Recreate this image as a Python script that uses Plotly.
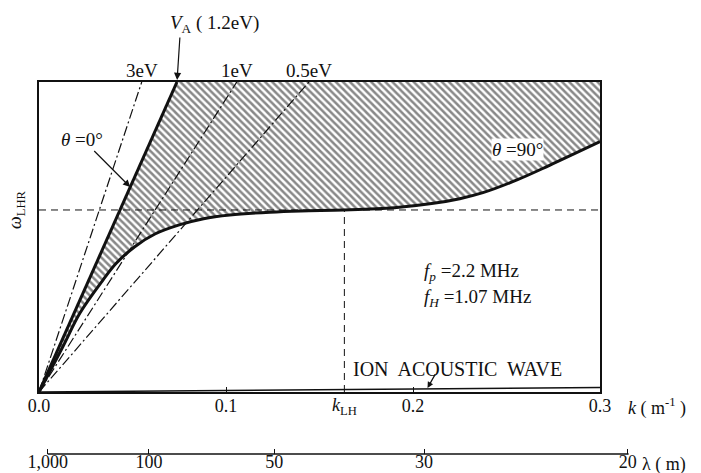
import plotly.graph_objects as go

# ---------------- data ----------------
# k in m^-1, omega normalised to omega_LHR
y_top = 1.703                      # top of the frame (omega / omega_LHR)
omega_LHR = 1.0
k_LH = 0.1633

k_tick_vals = [0.0, 0.1, 0.2, 0.3]
k_tick_text = ["0.0", "0.1", "0.2", "0.3"]

lam_labels = ["1,000", "100", "50", "30", "20"]
lam_tick_k = [0.00465, 0.0588, 0.1258, 0.2059, 0.3148]   # positions of lambda ticks on the k scale

# straight lines omega = slope * k
temp_labels = ["3eV", "1eV", "0.5eV"]
temp_slopes = [31.0, 16.1, 11.8]

alfven_slope = 23.08               # theta = 0 deg, V_A (1.2 eV)

# theta = 90 deg branch (lower hybrid)
theta90_k = [0.0, 0.0128, 0.0219, 0.0342, 0.0413, 0.0512, 0.062, 0.075, 0.088,
             0.102, 0.1235, 0.14, 0.163, 0.19, 0.21, 0.225, 0.2374, 0.2556, 0.273, 0.3]
theta90_w = [0.0, 0.25, 0.434, 0.615, 0.707, 0.798, 0.868, 0.918, 0.952,
             0.972, 0.988, 0.995, 1.0, 1.012, 1.035, 1.062, 1.095, 1.165, 1.245, 1.375]

ion_k = [0.0, 0.3]
ion_w = [0.0, 0.025]

k_max = 0.3

# ---------------- figure ----------------
W, H = 701, 473
ml, mr, mt, mb = 39, 71, 82, 19
plot_w = W - ml - mr
plot_h = H - mt - mb
main_px = 561.0
x_dom_end = main_px / plot_w
y_dom_start = 62.0 / plot_h

FONT = "Liberation Serif, Times New Roman, DejaVu Serif, serif"
BLACK = "#111111"

def f(size):
    return dict(size=size, family=FONT, color=BLACK)

fig = go.Figure()

# hatched region between theta=0 line and theta=90 curve
k_top_alfven = y_top / alfven_slope
poly_k = [0.0, k_top_alfven, k_max] + theta90_k[::-1]
poly_w = [0.0, y_top, y_top] + theta90_w[::-1]
fig.add_trace(go.Scatter(
    x=poly_k, y=poly_w, mode="lines", fill="toself",
    line=dict(width=0, color="rgba(0,0,0,0)"),
    fillcolor="white",
    fillpattern=dict(shape="\\", size=5, solidity=0.5, fgcolor=BLACK, bgcolor="white"),
    hoverinfo="skip", showlegend=False))

# omega_LHR dashed horizontal
fig.add_trace(go.Scatter(x=[0, k_max], y=[omega_LHR, omega_LHR], mode="lines",
                         line=dict(color=BLACK, width=1, dash="7px,5px"),
                         showlegend=False, hoverinfo="skip"))
# k_LH dashed vertical
fig.add_trace(go.Scatter(x=[k_LH, k_LH], y=[0, omega_LHR], mode="lines",
                         line=dict(color=BLACK, width=1, dash="7px,5px"),
                         showlegend=False, hoverinfo="skip"))

# temperature lines (dash-dot)
for lab, s in zip(temp_labels, temp_slopes):
    kt = y_top / s
    fig.add_trace(go.Scatter(x=[0, kt], y=[0, y_top], mode="lines",
                             line=dict(color=BLACK, width=1.2, dash="10px,3px,2px,3px"),
                             showlegend=False, hoverinfo="skip"))

# theta = 0 (Alfven) thick line
fig.add_trace(go.Scatter(x=[0, k_top_alfven], y=[0, y_top], mode="lines",
                         line=dict(color=BLACK, width=3),
                         showlegend=False, hoverinfo="skip"))
# theta = 90 thick curve
fig.add_trace(go.Scatter(x=theta90_k, y=theta90_w, mode="lines",
                         line=dict(color=BLACK, width=3, shape="spline", smoothing=1.0),
                         showlegend=False, hoverinfo="skip"))
# ion acoustic wave
fig.add_trace(go.Scatter(x=ion_k, y=ion_w, mode="lines",
                         line=dict(color=BLACK, width=1.5),
                         showlegend=False, hoverinfo="skip"))

# invisible trace to hold the lambda axis
fig.add_trace(go.Scatter(x=[lam_tick_k[0]], y=[None], xaxis="x2", yaxis="y",
                         mode="markers", marker=dict(opacity=0),
                         showlegend=False, hoverinfo="skip"))

ann = []
# temperature labels at top
for lab, s in zip(temp_labels, temp_slopes):
    ann.append(dict(x=y_top / s, y=y_top, xref="x", yref="y", text=lab, showarrow=False,
                    yanchor="bottom", yshift=-1, font=f(19)))
# V_A label + arrow
ann.append(dict(x=k_top_alfven, y=y_top, xref="x", yref="y", text="", showarrow=True,
                ax=3, ay=-46, arrowhead=2, arrowsize=1.2, arrowwidth=1.2, arrowcolor=BLACK,
                standoff=2))
ann.append(dict(x=k_top_alfven, y=y_top, xref="x", yref="y",
                text="<i>V</i><sub>A</sub> ( 1.2eV)", showarrow=False,
                xshift=38, yshift=58, font=f(19)))
# theta = 0 label with arrow
w_arrow = 1.126
ann.append(dict(x=w_arrow / alfven_slope, y=w_arrow, xref="x", yref="y",
                text="<i>θ</i> =0°", showarrow=True, ax=-48, ay=-48,
                arrowhead=2, arrowsize=1.2, arrowwidth=1.2, arrowcolor=BLACK,
                font=f(19)))
# theta = 90 label
ann.append(dict(x=0.256, y=1.33, xref="x", yref="y", text="<i>θ</i> =90°", showarrow=False,
                bgcolor="white", borderpad=0, font=f(19)))
# plasma parameters
ann.append(dict(x=0.2048, y=0.659, xref="x", yref="y", xanchor="left",
                text="<i>f</i><sub><i>p</i></sub> =2.2 MHz", showarrow=False, font=f(19)))
ann.append(dict(x=0.2048, y=0.516, xref="x", yref="y", xanchor="left",
                text="<i>f</i><sub><i>H</i></sub> =1.07 MHz", showarrow=False, font=f(19)))
# ion acoustic wave label + arrow
ann.append(dict(x=0.1667, y=0.126, xref="x", yref="y", xanchor="left",
                text="ION  ACOUSTIC  WAVE", showarrow=False, font=f(20)))
k_ia = 0.2075
ann.append(dict(x=k_ia, y=ion_w[1] * k_ia / ion_k[1], xref="x", yref="y", text="",
                showarrow=True, ax=9, ay=-16, arrowhead=2, arrowsize=1, arrowwidth=1.2,
                arrowcolor=BLACK, standoff=1))
# k_LH label
ann.append(dict(x=k_LH, y=0, xref="x", yref="y", text="<i>k</i><sub>LH</sub>",
                showarrow=False, yanchor="top", yshift=-1, font=f(18)))
# k unit
ann.append(dict(x=k_max, y=0, xref="x", yref="y", text="<i>k</i> ( m<sup>-1</sup> )",
                showarrow=False, xanchor="left", yanchor="top", xshift=26, yshift=-1,
                font=f(18)))
# lambda unit
ann.append(dict(x=lam_tick_k[-1], y=0, xref="x2", yref="paper", text="λ ( m)",
                showarrow=False, xanchor="left", yanchor="middle", xshift=12, yshift=-10,
                font=f(18)))
# omega_LHR y label
ann.append(dict(x=-22.0 / plot_w, y=omega_LHR, xref="paper", yref="y", xanchor="center",
                yanchor="middle", text="<i>ω</i><sub>LHR</sub>", textangle=-90,
                showarrow=False, font=f(18)))

shapes = [dict(type="line", xref="x2", yref="paper", x0=lam_tick_k[0], x1=lam_tick_k[-1] + 0.0005,
               y0=0, y1=0, line=dict(color=BLACK, width=1.3))]

fig.update_layout(
    width=W, height=H,
    margin=dict(l=ml, r=mr, t=mt, b=mb, pad=0, autoexpand=False),
    paper_bgcolor="white", plot_bgcolor="rgba(0,0,0,0)",
    font=f(18),
    showlegend=False,
    xaxis=dict(domain=[0, x_dom_end], range=[0, k_max], anchor="y", automargin=False,
               showline=True, linecolor=BLACK, linewidth=1.5, mirror=True,
               ticks="inside", ticklen=5, tickwidth=1.2, tickcolor=BLACK,
               tickvals=k_tick_vals, ticktext=k_tick_text, tickfont=f(18),
               ticklabelstandoff=-3,
               showgrid=False, zeroline=False),
    xaxis2=dict(domain=[0, 1], range=[0, k_max * plot_w / main_px], anchor="free",
                position=0, side="bottom", automargin=False,
                showline=False, ticks="inside", ticklen=5, tickwidth=1.2, tickcolor=BLACK,
                tickvals=lam_tick_k, ticktext=lam_labels, tickfont=f(18),
                ticklabelstandoff=-5,
                showgrid=False, zeroline=False),
    yaxis=dict(domain=[y_dom_start, 1], range=[0, y_top], anchor="x", automargin=False,
               showline=True, linecolor=BLACK, linewidth=1.5, mirror=True,
               ticks="", showticklabels=False, showgrid=False, zeroline=False),
    annotations=ann,
    shapes=shapes,
)

fig.write_html("out.html")
